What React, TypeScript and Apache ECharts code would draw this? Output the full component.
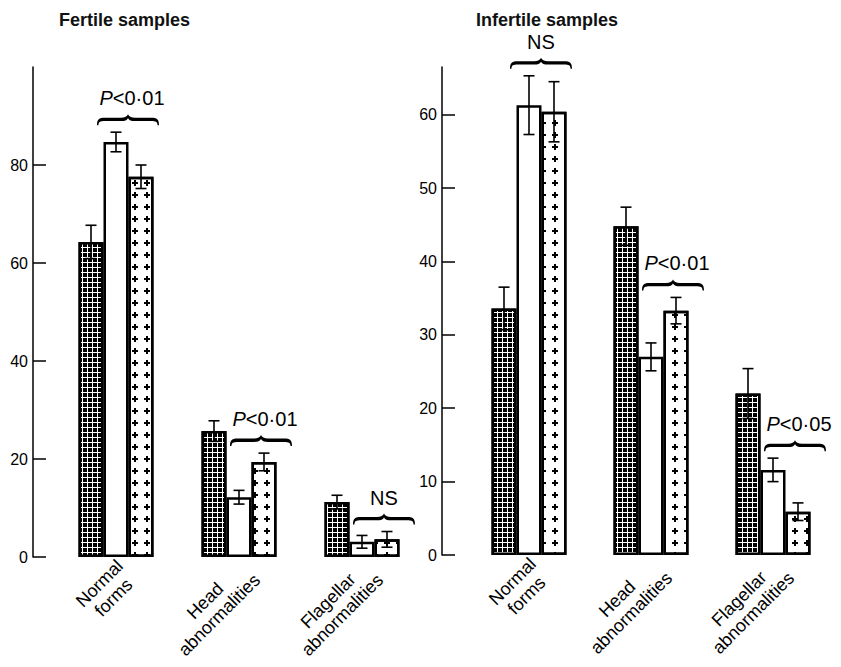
import React, { useEffect, useRef } from 'react';
import * as echarts from 'echarts';

// ---------- data ----------
const categories = ['Normal\nforms', 'Head\nabnormalities', 'Flagellar\nabnormalities'];
const fertileTicks = [0, 20, 40, 60, 80];
const infertileTicks = [0, 10, 20, 30, 40, 50, 60];

// Fertile samples (dark, white, crossed bars): means and error
const fertileDark = [64.3, 25.7, 11.2];
const fertileDarkErr = [3.4, 2.1, 1.4];
const fertileWhite = [84.7, 12.2, 3.1];
const fertileWhiteErr = [2.0, 1.4, 1.3];
const fertileCross = [77.6, 19.4, 3.6];
const fertileCrossErr = [2.4, 1.8, 1.6];

// Infertile samples
const infertileDark = [33.6, 44.8, 22.0];
const infertileDarkErr = [2.9, 2.6, 3.4];
const infertileWhite = [61.3, 27.0, 11.6];
const infertileWhiteErr = [4.0, 1.9, 1.6];
const infertileCross = [60.4, 33.3, 5.9];
const infertileCrossErr = [4.1, 1.8, 1.2];

const fertileTests = ['P<0·01', 'P<0·01', 'NS'];
const infertileTests = ['NS', 'P<0·01', 'P<0·05'];

// ---------- styles ----------
const FONT = '"Liberation Sans", Arial, Helvetica, sans-serif';
const BAR_W = 25;

const darkStyle = {
  color: '#000',
  borderColor: '#000',
  borderWidth: 2.5,
  decal: {
    symbol: 'path://M2,0H3V2H5V3H3V5H2V3H0V2H2Z',
    symbolSize: 1,
    symbolKeepAspect: false,
    color: '#fff',
    dashArrayX: [5, 0],
    dashArrayY: [5, 0],
    rotation: 0,
  },
};
const whiteStyle = { color: '#fff', borderColor: '#000', borderWidth: 2.5 };
const crossStyle = {
  color: '#fff',
  borderColor: '#000',
  borderWidth: 2.5,
  decal: {
    symbol: 'path://M2,0H4V2H6V4H4V6H2V4H0V2H2Z',
    symbolSize: 1,
    color: '#000',
    dashArrayX: [6, 6],
    dashArrayY: [6, 6],
    rotation: 0,
  },
};

function bracePath(cx: number, by: number) {
  const w = 31;
  const t = by - 11;
  return [
    `M${cx - w},${by}`,
    `C${cx - w},${t + 5} ${cx - w + 2},${t + 3.5} ${cx - w + 8},${t + 3.5}`,
    `L${cx - 7},${t + 3.5}`,
    `C${cx - 3},${t + 3.5} ${cx - 1},${t + 2} ${cx},${t}`,
    `C${cx + 1},${t + 2} ${cx + 3},${t + 3.5} ${cx + 7},${t + 3.5}`,
    `L${cx + w - 8},${t + 3.5}`,
    `C${cx + w - 2},${t + 3.5} ${cx + w},${t + 5} ${cx + w},${by}`,
    `L${cx + w - 1.4},${by}`,
    `C${cx + w - 1.8},${t + 7.5} ${cx + w - 3},${t + 6.8} ${cx + w - 8},${t + 6.8}`,
    `L${cx + 7},${t + 6.8}`,
    `C${cx + 3},${t + 6.8} ${cx + 1},${t + 6} ${cx},${t + 4}`,
    `C${cx - 1},${t + 6} ${cx - 3},${t + 6.8} ${cx - 7},${t + 6.8}`,
    `L${cx - w + 8},${t + 6.8}`,
    `C${cx - w + 3},${t + 6.8} ${cx - w + 1.8},${t + 7.5} ${cx - w + 1.4},${by}`,
    'Z',
  ].join(' ');
}

function errorData(groups: number[][][]) {
  const out: number[][] = [];
  groups.forEach(([means, errs], s) => {
    means.forEach((m, i) => out.push([i, m, errs[i], s]));
  });
  return out;
}

function buildGrid(
  gi: number,
  dark: number[], darkErr: number[],
  white: number[], whiteErr: number[],
  cross: number[], crossErr: number[],
  tests: string[],
) {
  const common = { xAxisIndex: gi, yAxisIndex: gi };
  const braceData = categories.map((_, i) => [
    i,
    Math.max(white[i] + whiteErr[i], cross[i] + crossErr[i]),
    dark[i] + darkErr[i],
  ]);
  return [
    { ...common, type: 'bar', data: dark, barWidth: BAR_W, barGap: '0%', itemStyle: darkStyle, silent: true },
    { ...common, type: 'bar', data: white, barWidth: BAR_W, barGap: '0%', itemStyle: whiteStyle, silent: true },
    { ...common, type: 'bar', data: cross, barWidth: BAR_W, barGap: '0%', itemStyle: crossStyle, silent: true },
    {
      ...common,
      type: 'custom',
      silent: true,
      z: 5,
      data: errorData([[dark, darkErr], [white, whiteErr], [cross, crossErr]]),
      encode: { x: 0, y: 1 },
      renderItem: (params: any, api: any) => {
        const cat = api.value(0);
        const mean = api.value(1);
        const err = api.value(2);
        const s = api.value(3);
        const top = api.coord([cat, mean + err]);
        const bot = api.coord([cat, mean - err]);
        const x = top[0] + (s - 1) * BAR_W;
        const st = { stroke: '#000', lineWidth: 1.6 };
        return {
          type: 'group',
          children: [
            { type: 'line', shape: { x1: x, y1: top[1], x2: x, y2: bot[1] }, style: st },
            { type: 'line', shape: { x1: x - 5.5, y1: top[1], x2: x + 5.5, y2: top[1] }, style: st },
            { type: 'line', shape: { x1: x - 5.5, y1: bot[1], x2: x + 5.5, y2: bot[1] }, style: st },
          ],
        };
      },
    },
    {
      ...common,
      type: 'custom',
      silent: true,
      z: 6,
      data: braceData,
      encode: { x: 0, y: 1 },
      renderItem: (params: any, api: any) => {
        const cat = api.value(0);
        const p = api.coord([cat, api.value(1)]);
        const darkTop = api.coord([cat, api.value(2)])[1];
        const by = p[1] - 7;
        // shift the brace clear of the dark bar when that bar rises above it
        const cx = p[0] + (darkTop < by + 4 ? 22 : 12);
        const label = tests[params.dataIndex];
        const isP = label.startsWith('P');
        const txt = isP ? `{i|P}{n|${label.slice(1)}}` : `{n|${label}}`;
        return {
          type: 'group',
          children: [
            { type: 'path', shape: { pathData: bracePath(cx, by) }, style: { fill: '#000' } },
            {
              type: 'text',
              style: {
                text: txt,
                x: cx + (isP ? 4 : 0),
                y: by - 27,
                align: 'center',
                verticalAlign: 'middle',
                fill: '#000',
                rich: {
                  i: { fontStyle: 'italic', fontSize: 20, fontFamily: FONT, fill: '#000' },
                  n: { fontSize: 20, fontFamily: FONT, fill: '#000' },
                },
              },
            },
          ],
        };
      },
    },
    {
      // category labels, rotated 45°, lines centred on each other
      ...common,
      type: 'custom',
      silent: true,
      z: 6,
      data: categories.map((_, i) => [i, 0]),
      encode: { x: 0, y: 1 },
      renderItem: (params: any, api: any) => {
        const cat = api.value(0);
        const p = api.coord([cat, 0]);
        const txt = categories[params.dataIndex].split('\n').map((s) => `{c|${s}}`).join('\n');
        return {
          type: 'text',
          x: p[0] + 11,
          y: p[1] + 13,
          rotation: Math.PI / 4,
          style: {
            text: txt,
            x: 0,
            y: 0,
            align: 'right',
            verticalAlign: 'middle',
            fill: '#000',
            rich: { c: { align: 'center', fontSize: 18, fontFamily: FONT, fill: '#000', lineHeight: 20 } },
          },
        };
      },
    },
  ];
}

function yAxisCfg(gi: number, max: number, interval: number, ticks: number[], offset: number) {
  return {
    gridIndex: gi,
    type: 'value',
    min: 0,
    max,
    interval,
    offset,
    axisLine: { show: true, lineStyle: { color: '#000', width: 1.5 } },
    axisTick: { show: true, inside: true, length: 13, customValues: ticks, lineStyle: { color: '#000', width: 1.5 } },
    axisLabel: { customValues: ticks, fontSize: 16, color: '#000', margin: 5, fontFamily: FONT },
    splitLine: { show: false },
  };
}

function xAxisCfg(gi: number) {
  return {
    gridIndex: gi,
    type: 'category',
    data: categories,
    axisLine: { show: false },
    axisTick: { show: false },
    axisLabel: { show: false },
  };
}

export default function App() {
  const ref = useRef<HTMLDivElement>(null);
  useEffect(() => {
    document.body.style.margin = '0';
    if (!ref.current) return;
    const chart = echarts.init(ref.current, null, { renderer: 'svg' });
    chart.setOption({
      animation: false,
      backgroundColor: '#fff',
      title: [
        { text: 'Fertile samples', left: 54, top: 6, textStyle: { fontSize: 18, fontWeight: 'bold', fontFamily: FONT, color: '#111' } },
        { text: 'Infertile samples', left: 471, top: 6, textStyle: { fontSize: 18, fontWeight: 'bold', fontFamily: FONT, color: '#111' } },
      ],
      grid: [
        { left: 54.5, top: 67, width: 369, bottom: 110, containLabel: false },
        { left: 468, top: 67, width: 366, bottom: 112, containLabel: false },
      ],
      xAxis: [xAxisCfg(0), xAxisCfg(1)],
      yAxis: [
        yAxisCfg(0, 100, 20, fertileTicks, 21.5),
        yAxisCfg(1, 66.5, 10, infertileTicks, 26),
      ],
      series: [
        ...buildGrid(0, fertileDark, fertileDarkErr, fertileWhite, fertileWhiteErr, fertileCross, fertileCrossErr, fertileTests),
        ...buildGrid(1, infertileDark, infertileDarkErr, infertileWhite, infertileWhiteErr, infertileCross, infertileCrossErr, infertileTests),
      ],
    });
    return () => chart.dispose();
  }, []);
  return <div ref={ref} style={{ width: 841, height: 667 }} />;
}
